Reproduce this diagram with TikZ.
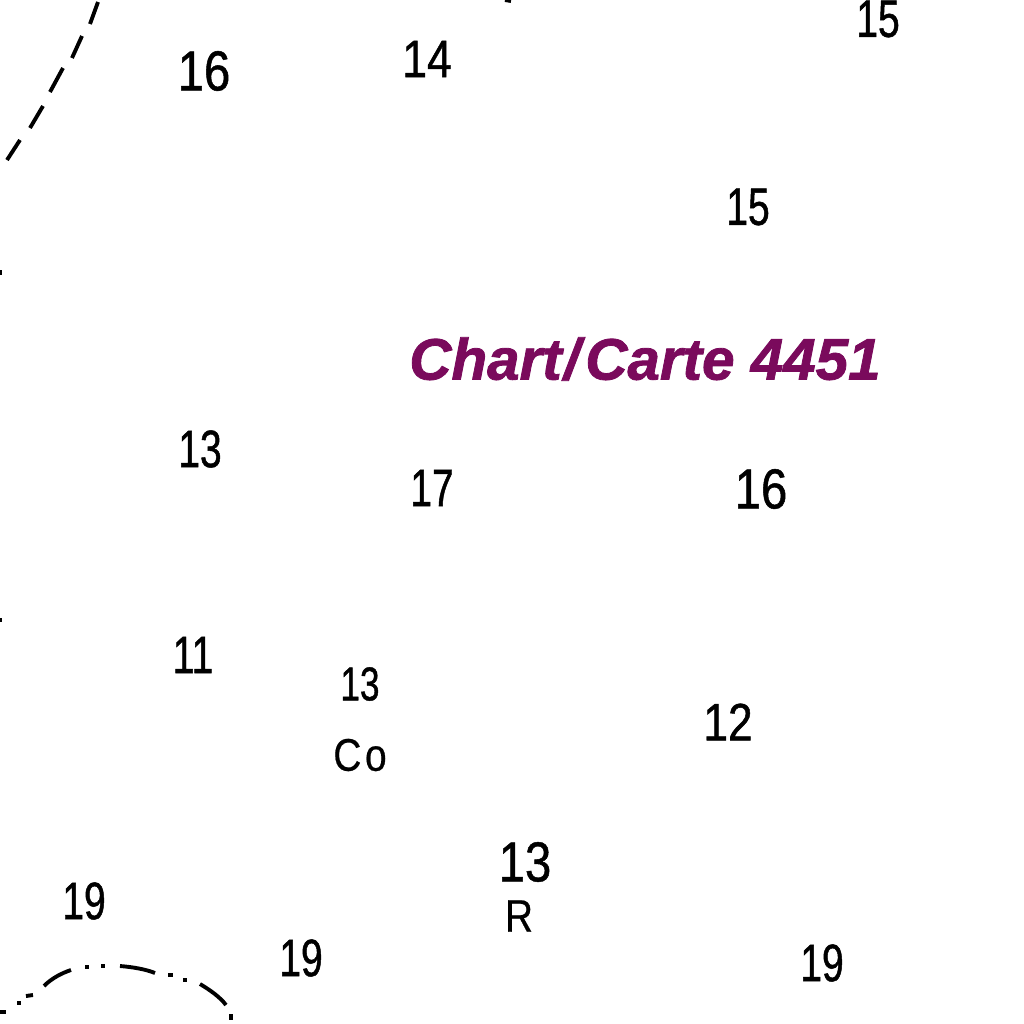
\documentclass[tikz,border=0pt]{standalone}
\usepackage{fontspec}
\setmainfont{Liberation Sans}
\newfontfamily\soundingfont{Liberation Sans}[FakeStretch=0.74,FakeBold=0.9]
\newfontfamily\soundingwidefont{Liberation Sans}[FakeStretch=0.84,FakeBold=0.9]
\newfontfamily\typefont{Liberation Sans}[FakeStretch=0.85,FakeBold=0.5,LetterSpace=8]
\newfontfamily\chartfont{Liberation Sans}[FakeBold=1.4]
\definecolor{chartpurple}{HTML}{7A0A5C}
\begin{document}
\begin{tikzpicture}[
        x=0.01cm,
        y=-0.01cm,
        every node/.style={
            inner sep=0pt,
            text=black
        },
        sounding/.style={font=\soundingfont\fontsize{15}{15}\selectfont},
        soundingwide/.style={font=\soundingwidefont\fontsize{15}{15}\selectfont},
        soundingbig/.style={font=\soundingwidefont\fontsize{16}{16}\selectfont},
        soundingsmall/.style={font=\soundingfont\fontsize{13.5}{13.5}\selectfont},
        bottomtype/.style={font=\typefont\fontsize{13}{13}\selectfont},
        chartlabel/.style={text=chartpurple, font=\chartfont\fontsize{16.6}{16.6}\selectfont\bfseries\itshape},
        contour/.style={black, line width=1.1pt, line cap=butt}
    ]
    \useasboundingbox (0,0) rectangle (1024,1024);
    \clip (0,0) rectangle (1024,1024);

    % Sondes
    \node[soundingbig] (s16a) at (204,71) {16};
    \node[soundingwide] (s14) at (427,59) {14};
    \node[sounding] (s15a) at (878,19) {15};
    \node[sounding] (s15b) at (748,207) {15};
    \node[sounding] (s13a) at (200,449) {13};
    \node[sounding] (s17) at (432,488) {17};
    \node[soundingbig] (s16b) at (761,489) {16};
    \node[sounding] (s11) at (193,655) {11};
    \node[soundingsmall] (s13b) at (360,684) {13};
    \node[soundingwide] (s12) at (728,722) {12};
    \node[soundingbig] (s13c) at (525,862) {13};
    \node[sounding] (s19a) at (84,901) {19};
    \node[sounding] (s19b) at (301,958) {19};
    \node[sounding] (s19c) at (822,963) {19};

    % Nature du fond
    \node[bottomtype] (co) at (360,755) {Co};
    \node[bottomtype] (rock) at (519,916) {R};

    % Titre
    \node[chartlabel] (title) at (645,359) {Chart\kern0.6pt/\kern1.5pt Carte 4451};

    % Isobathe haut gauche
    \draw[contour] (7,160) -- (20,140);
    \draw[contour] (30,128) -- (43,106);
    \draw[contour] (50,92) -- (63,68);
    \draw[contour] (72,58) -- (82,36);
    \draw[contour] (90,24) -- (98,2);

    % Isobathe bas gauche
    \draw[contour] (0,1012) -- (6,1012);
    \draw[contour] (17,1003) -- (21,1003);
    \draw[contour] (26,996) -- (33,995);
    \draw[contour] (44,986) .. controls (52,978) and (62,973) .. (71,970);
    \draw[contour] (85,967) -- (89,967);
    \draw[contour] (101,966) -- (105,966);
    \draw[contour] (120,966) .. controls (132,967) and (145,969) .. (155,973);
    \draw[contour] (168,975) -- (173,975);
    \draw[contour] (183,980) -- (187,980);
    \draw[contour] (200,984) .. controls (210,990) and (220,997) .. (226,1005);
    \draw[contour] (231,1014) -- (231,1020);

    % Marques au bord
    \draw[contour] (505,0) -- (511,1);
    \draw[contour] (0,270) -- (0,275);
    \draw[contour] (0,618) -- (0,622);
\end{tikzpicture}
\end{document}
